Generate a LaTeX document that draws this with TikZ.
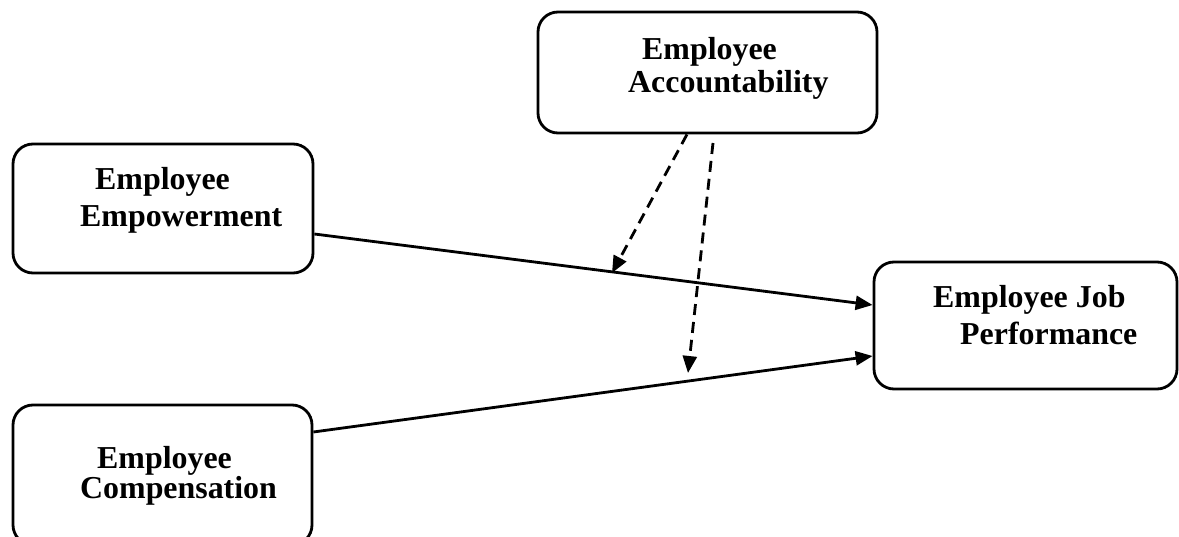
\documentclass[tikz,border=0pt]{standalone}
\usepackage{fontspec}
\setmainfont{Liberation Serif}
\usetikzlibrary{arrows.meta}
\begin{document}
\begin{tikzpicture}[x=1pt,y=-1pt,
  box/.style={draw=black, line width=2.8pt, rounded corners=20pt, inner sep=0pt},
  lbl/.style={anchor=base west, inner sep=0pt, font=\fontsize{31.9}{37}\selectfont\bfseries},
  link/.style={line width=2.8pt, -{Triangle[length=17pt,width=14pt]}},
  dlink/.style={line width=2.8pt, dash pattern=on 11pt off 7pt, -{Triangle[length=17pt,width=14pt]}}]
\useasboundingbox (0,0) rectangle (1179,537);
% boxes
\node[box, minimum width=339pt, minimum height=121pt] (acc) at (707.5,72.5) {};
\node[box, minimum width=300pt, minimum height=129pt] (emp) at (163,208.5) {};
\node[box, minimum width=303pt, minimum height=127pt] (perf) at (1025.5,325.5) {};
\node[box, minimum width=299pt, minimum height=140pt] (comp) at (162.5,475) {};
% labels
\node[lbl] (acc1) at (642,60) {Employee};
\node[lbl] (acc2) at (628,93) {Accountability};
\node[lbl] (emp1) at (95,190) {Employee};
\node[lbl] (emp2) at (80,227) {Empowerment};
\node[lbl] (perf1) at (933,308) {Employee Job};
\node[lbl] (perf2) at (960,345) {Performance};
\node[lbl] (comp1) at (97,468) {Employee};
\node[lbl] (comp2) at (80,498) {Compensation};
% connectors
\draw[link] ([yshift=-25.5pt]emp.east) -- ([yshift=20.5pt]perf.west);
\draw[link] ([yshift=43pt]comp.east) -- ([yshift=-30.5pt]perf.west);
\coordinate (d1e) at (612,273);
\coordinate (d2s) at (713,143);
\coordinate (d2e) at (688,373);
\draw[dlink] ([xshift=-20.5pt]acc.south) -- (d1e);
\draw[dlink] (d2s) -- (d2e);
\end{tikzpicture}
\end{document}
